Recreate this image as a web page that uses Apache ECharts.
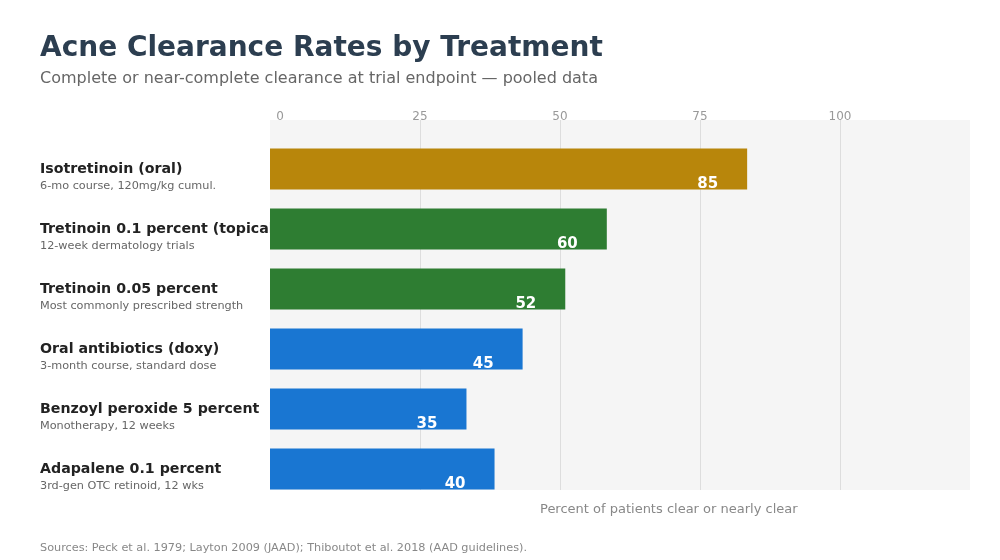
<!DOCTYPE html>
<html>
<head>
<meta charset="utf-8">
<script src="https://cdn.jsdelivr.net/npm/echarts@6/dist/echarts.min.js"></script>
<style>html,body{margin:0;padding:0;background:#fff;}#c{width:1000px;height:560px;}</style>
</head>
<body>
<div id="c"></div>
<script>
const treatments = ['Isotretinoin (oral)', 'Tretinoin 0.1 percent (topical)', 'Tretinoin 0.05 percent', 'Oral antibiotics (doxy)', 'Benzoyl peroxide 5 percent', 'Adapalene 0.1 percent'];
const notes = ['6-mo course, 120mg/kg cumul.', '12-week dermatology trials', 'Most commonly prescribed strength', '3-month course, standard dose', 'Monotherapy, 12 weeks', '3rd-gen OTC retinoid, 12 wks'];
const clearance = [85, 60, 52.6, 45, 35, 40];
const valueLabels = ['85', '60', '52', '45', '35', '40'];
const groups = ['oral', 'retinoid', 'retinoid', 'other', 'other', 'other'];
const groupColors = {oral: '#b8860b', retinoid: '#2e7d32', other: '#1976d2'};
const tickValues = [0, 25, 50, 75, 100];

const FONT = 'DejaVu Sans';
const chart = echarts.init(document.getElementById('c'), null, {renderer: 'canvas'});

const option = {
  backgroundColor: '#ffffff',
  textStyle: {fontFamily: FONT},
  title: [
    {text: 'Acne Clearance Rates by Treatment', left: 40, top: 35, padding: 0,
     textStyle: {fontFamily: FONT, fontSize: 28, fontWeight: 'bold', color: '#2c3e50'}},
    {text: 'Complete or near-complete clearance at trial endpoint — pooled data', left: 40, top: 71, padding: 0,
     textStyle: {fontFamily: FONT, fontSize: 16, fontWeight: 'normal', color: '#666666'}},
    {text: 'Percent of patients clear or nearly clear', left: 540, top: 503, padding: 0,
     textStyle: {fontFamily: FONT, fontSize: 13, fontWeight: 'normal', color: '#888888'}},
    {text: 'Sources: Peck et al. 1979; Layton 2009 (JAAD); Thiboutot et al. 2018 (AAD guidelines).', left: 40, top: 543, padding: 0,
     textStyle: {fontFamily: FONT, fontSize: 11.25, fontWeight: 'normal', color: '#888888'}}
  ],
  grid: [
    {left: 270, right: 30, top: 120, bottom: 70, show: true, backgroundColor: '#f5f5f5', borderWidth: 0},
    {left: 280, right: 30, top: 120, bottom: 70},
    {left: 270, right: 30, top: 139, height: 360}
  ],
  xAxis: [
    {gridIndex: 0, type: 'value', show: false, min: 0, max: 1},
    {gridIndex: 1, type: 'value', position: 'top', min: 0, max: 690 / 5.6, interval: 25,
     axisLine: {show: false}, axisTick: {show: false},
     axisLabel: {color: '#999999', fontSize: 12, margin: -3, showMaxLabel: false,
       formatter: v => tickValues.includes(v) ? String(v) : ''},
     splitLine: {show: true, showMinLine: false, showMaxLine: false, lineStyle: {color: '#dddddd', width: 1}}},
    {gridIndex: 2, type: 'value', show: false, min: 0, max: 124.7}
  ],
  yAxis: [
    {gridIndex: 0, type: 'value', show: false},
    {gridIndex: 1, type: 'value', show: false},
    {gridIndex: 2, type: 'category', inverse: true, data: treatments,
     axisLine: {show: false}, axisTick: {show: false}, splitLine: {show: false},
     axisLabel: {
       interval: 0, align: 'left', margin: 230, padding: [16, 0, 0, 0],
       formatter: (v, i) => '{n|' + v + '}\n{s|' + notes[i] + '}',
       rich: {
         n: {fontFamily: FONT, fontSize: 14.2, fontWeight: 'bold', color: '#222222', lineHeight: 18},
         s: {fontFamily: FONT, fontSize: 11.25, color: '#666666', lineHeight: 16}
       }
     }}
  ],
  series: [{
    type: 'bar', xAxisIndex: 2, yAxisIndex: 2,
    barWidth: 41,
    data: clearance.map((v, i) => ({value: v, itemStyle: {color: groupColors[groups[i]]}})),
    label: {show: true, position: 'insideRight', distance: 5, offset: [-24, 15],
      formatter: p => valueLabels[p.dataIndex],
      color: '#ffffff', fontFamily: FONT, fontSize: 15, fontWeight: 'bold'},
    z: 3
  }],
  animation: false
};
chart.setOption(option);
</script>
</body>
</html>
